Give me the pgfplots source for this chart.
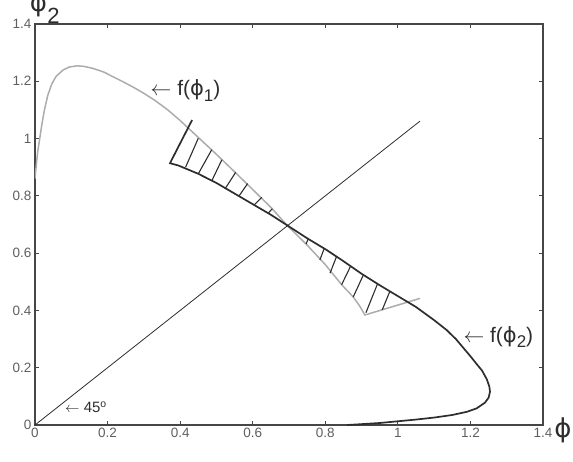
\documentclass[border=0pt]{standalone}
\usepackage{fontspec}
\setmainfont{Liberation Sans}
\newfontfamily\djv{DejaVu Sans}
\usepackage{pgfplots}
\pgfplotsset{compat=1.18}
\definecolor{grayc}{RGB}{172,172,172}
\definecolor{darkc}{RGB}{45,45,45}
\definecolor{axisc}{RGB}{70,70,70}
\definecolor{labc}{RGB}{95,95,95}
\newcommand{\ph}{{\djv ϕ}}
\newcommand{\sub}[1]{\raisebox{-0.5ex}{\fontsize{17}{17}\selectfont #1}}
\begin{document}
\begin{tikzpicture}
\begin{axis}[
  at={(0,0)}, anchor=south west,
  scale only axis, width=508pt, height=401pt,
  xmin=0, xmax=1.4, ymin=0, ymax=1.4,
  xtick={0,0.2,0.4,0.6,0.8,1,1.2,1.4},
  ytick={0,0.2,0.4,0.6,0.8,1,1.2,1.4},
  xticklabels={0,0.2,0.4,0.6,0.8,1,1.2,1.4},
  yticklabels={0,0.2,0.4,0.6,0.8,1,1.2,1.4},
  tick align=inside, major tick length=4pt,
  axis line style={line width=1.3pt, color=axisc},
  tick style={color=axisc, line width=0.8pt},
  /pgf/number format/assume math mode=true,
  ticklabel style={font=\fontsize{13.5}{14}\selectfont, text=labc},
  unbounded coords=jump,
]
% f(phi_1), grey curve
\addplot[grayc, line width=1.5pt] coordinates {
(0,0.86) (0.003,0.90) (0.007,0.95) (0.013,1.00) (0.019,1.05) (0.026,1.10)
(0.035,1.15) (0.046,1.19) (0.058,1.217) (0.078,1.240) (0.095,1.250) (0.116,1.254)
(0.135,1.252) (0.160,1.245) (0.190,1.232) (0.213,1.217) (0.240,1.200) (0.270,1.180)
(0.300,1.158) (0.332,1.132) (0.366,1.100) (0.40,1.063) (0.45,1.004) (0.50,0.945)
(0.55,0.884) (0.60,0.822) (0.65,0.760) (0.694,0.698) (0.75,0.628) (0.80,0.560)
(0.845,0.490) (0.877,0.447) (0.895,0.415) (0.909,0.384) (1.061,0.442)
};
% f(phi_2), dark curve
\addplot[darkc, line width=1.7pt] coordinates {
(0.433,1.065) (0.372,0.914) (0.395,0.906) (0.45,0.877) (0.50,0.845) (0.55,0.808)
(0.60,0.771) (0.65,0.734) (0.694,0.698) (0.75,0.652) (0.80,0.614) (0.85,0.572)
(0.90,0.528) (0.95,0.488) (1.00,0.450) (1.05,0.412) (1.10,0.366) (1.134,0.332)
(1.16,0.300) (1.18,0.270) (1.20,0.240) (1.217,0.213) (1.232,0.190) (1.245,0.160)
(1.252,0.135) (1.254,0.116) (1.250,0.095) (1.240,0.078) (1.217,0.058) (1.19,0.046)
(1.15,0.035) (1.10,0.026) (1.05,0.019) (1.00,0.013) (0.95,0.007) (0.90,0.003) (0.86,0.0)
};
% 45 degree line
\addplot[darkc, line width=0.8pt] coordinates {(0,0) (1.061,1.061)};
% hatching
\addplot[darkc, line width=1.1pt] coordinates {
(0.415,0.900) (0.450,1.001) (nan,nan)
(0.450,0.877) (0.487,0.961) (nan,nan)
(0.487,0.852) (0.515,0.926) (nan,nan)
(0.524,0.825) (0.553,0.882) (nan,nan)
(0.562,0.799) (0.586,0.843) (nan,nan)
(0.604,0.768) (0.625,0.795) (nan,nan)
(0.643,0.740) (0.654,0.755) (nan,nan)
(0.747,0.632) (0.753,0.650) (nan,nan)
(0.785,0.576) (0.797,0.616) (nan,nan)
(0.813,0.530) (0.831,0.588) (nan,nan)
(0.845,0.490) (0.870,0.555) (nan,nan)
(0.877,0.447) (0.905,0.524) (nan,nan)
(0.912,0.392) (0.944,0.493) (nan,nan)
(0.957,0.402) (0.978,0.467)
};
\end{axis}
% annotations
\node[anchor=base west, inner sep=0pt, text=darkc, font=\fontsize{21}{21}\selectfont] at (115.5pt,329pt) {$\leftarrow$ f(\ph\sub{1})};
\node[anchor=base west, inner sep=0pt, text=darkc, font=\fontsize{21}{21}\selectfont] at (428.3pt,83pt) {$\leftarrow$ f(\ph\sub{2})};
\node[anchor=base west, inner sep=0pt, text=darkc, font=\fontsize{15}{15}\selectfont] at (30pt,12.3pt) {$\leftarrow$ 45\textsuperscript{o}};
\node[anchor=center, inner sep=0pt, text=darkc, font=\fontsize{26}{26}\selectfont] at (528pt,-5pt) {\ph};
\node[anchor=south, inner sep=0pt, text=darkc, font=\fontsize{26}{26}\selectfont] at (3.5pt,408pt) {\ph};
\node[anchor=base, inner sep=0pt, text=darkc, font=\fontsize{22}{22}\selectfont] at (18.5pt,401pt) {2};
\pgfresetboundingbox
\useasboundingbox (-35pt,-36pt) rectangle (538pt,425pt);
\end{tikzpicture}
\end{document}
